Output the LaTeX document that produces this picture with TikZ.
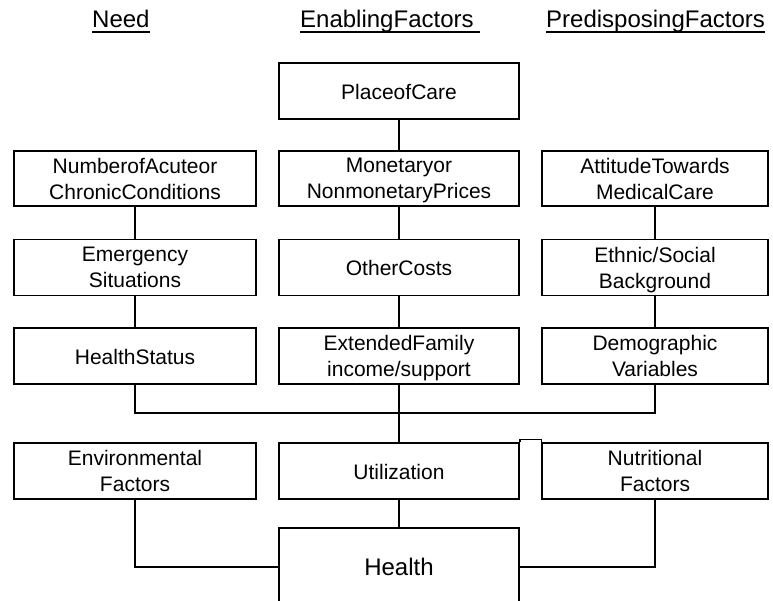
\documentclass[tikz,border=0pt]{standalone}
\usepackage{fontspec}
\setmainfont{Liberation Sans}
\newcommand\myul[1]{\setbox0\hbox{#1}\rlap{\rule[-4.6pt]{\wd0}{1.8pt}}\box0}
\tikzset{
  box/.style={draw, line width=1.8pt, rectangle, inner sep=0pt, align=center,
    font=\fontsize{21}{26}\selectfont, minimum height=56pt, text depth=0pt,
    execute at begin node={\rule{0pt}{17pt}}},
  lbox/.style={box, minimum width=242pt},
  mbox/.style={box, minimum width=240pt},
  rbox/.style={box, minimum width=226pt},
  conn/.style={line width=1.8pt},
  head/.style={anchor=base west, inner sep=0pt, font=\fontsize{24}{28}\selectfont}
}
\begin{document}
\begin{tikzpicture}[x=1pt,y=-1pt]
\useasboundingbox (0,0) rectangle (773,601);
% headers
\node[head] (hneed) at (92,28) {\myul{Need}};
\node[head] (henab) at (300,28) {\myul{EnablingFactors\ }};
\node[head] (hpred) at (546,28) {\myul{PredisposingFactors}};
% row 1
\node[mbox] (place) at (399,91) {PlaceofCare};
% row 2
\node[lbox, minimum height=55pt] (acute) at (135,178.5) {NumberofAcuteor\\ChronicConditions};
\node[mbox, minimum height=55pt] (money) at (399,178.5) {Monetaryor\\NonmonetaryPrices};
\node[rbox, minimum height=55pt] (att) at (655,178.5) {AttitudeTowards\\MedicalCare};
% row 3
\node[lbox] (emerg) at (135,267.5) {Emergency\\Situations};
\node[mbox] (other) at (399,267.5) {OtherCosts};
\node[rbox] (ethnic) at (655,267.5) {Ethnic/Social\\Background};
% row 4
\node[lbox] (hstat) at (135,356) {HealthStatus};
\node[mbox] (ext) at (399,356) {ExtendedFamily\\income/support};
\node[rbox] (demo) at (655,356) {Demographic\\Variables};
% row 5
\node[lbox] (env) at (135,471) {Environmental\\Factors};
\node[mbox] (util) at (399,471) {Utilization};
\node[rbox] (nutr) at (655,471) {Nutritional\\Factors};
% health (bottom edge falls outside the page)
\node[mbox, minimum height=78pt, font=\fontsize{24}{28}\selectfont] (health) at (399,567) {Health};
\coordinate (join) at (399,413);
% connectors
\draw[conn] (place) -- (money);
\draw[conn] (acute) -- (emerg);
\draw[conn] (emerg) -- (hstat);
\draw[conn] (money) -- (other);
\draw[conn] (other) -- (ext);
\draw[conn] (att) -- (ethnic);
\draw[conn] (ethnic) -- (demo);
\draw[conn] (hstat.south) |- (join) -| (demo.south);
\draw[conn] (ext) -- (util);
\draw[conn] (util) -- (health);
\draw[conn] (env.south) |- (health.west);
\draw[conn] (nutr.south) |- (health.east);
\draw[line width=1.2pt] (util.north east) -- ++(0,-2.5) -| (nutr.north west);
\end{tikzpicture}
\end{document}
